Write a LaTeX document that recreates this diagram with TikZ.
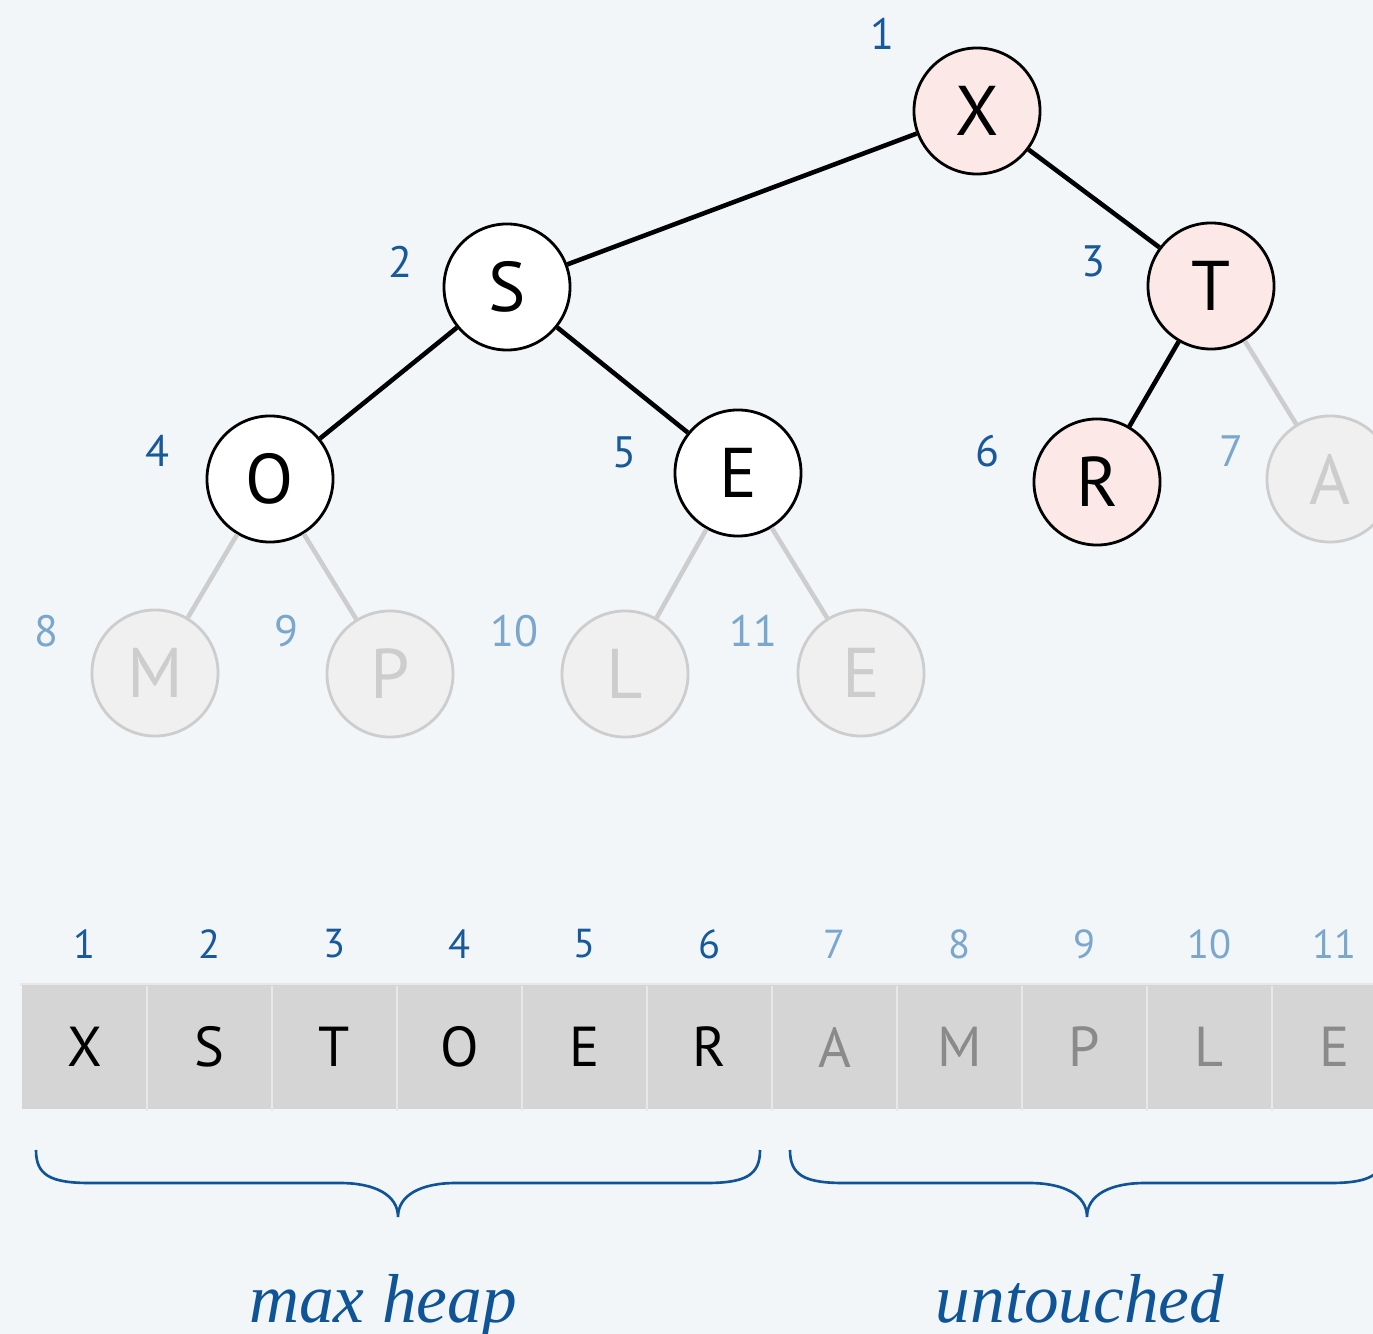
\documentclass[tikz,border=0pt]{standalone}
\usepackage{fontspec}
\setmainfont{PT Sans}
\newfontfamily\itfont{Liberation Serif}
\definecolor{bgc}{HTML}{F2F6F9}
\definecolor{darkblue}{HTML}{17599A}
\definecolor{lightblue}{HTML}{7BA7CD}
\definecolor{bracec}{HTML}{0E5496}
\definecolor{pinkc}{HTML}{FCE8E6}
\definecolor{ghostfill}{HTML}{F0F0F0}
\definecolor{ghostline}{HTML}{CDCDCD}
\definecolor{cellfill}{HTML}{D5D5D5}
\definecolor{cellline}{HTML}{E8E8E8}
\definecolor{graytext}{HTML}{8A8A8A}
\tikzset{
  heapnode/.style={circle, draw=black, line width=0.8pt, fill=white, minimum size=1.26cm, inner sep=0pt, font=\fontsize{20}{24}\selectfont},
  redheap/.style={heapnode, fill=pinkc},
  ghost/.style={circle, draw=ghostline, line width=0.8pt, fill=ghostfill, text=ghostline, minimum size=1.26cm, inner sep=0pt, font=\fontsize{20}{24}\selectfont},
  blackedge/.style={draw=black, line width=1.3pt},
  grayedge/.style={draw=ghostline, line width=1.3pt},
  lbl/.style={inner sep=0pt, text=darkblue, font=\fontsize{12.5}{15}\selectfont},
  lbllight/.style={lbl, text=lightblue},
  cellbox/.style={rectangle, fill=cellfill, minimum width=1.25cm, minimum height=1.23cm, inner sep=0pt, font=\fontsize{16}{19}\selectfont},
  sepline/.style={draw=cellline, line width=0.6pt},
  idx/.style={inner sep=0pt, text=darkblue, font=\fontsize{11.5}{14}\selectfont},
  idxlight/.style={idx, text=lightblue},
  bracepath/.style={draw=bracec, line width=0.75pt},
  caption/.style={inner sep=0pt, anchor=base, text=bracec, font=\itfont\itshape\fontsize{19.7}{24}\selectfont}
}
\begin{document}
\begin{tikzpicture}[x=0.01cm, y=-0.01cm]
\useasboundingbox (0,0) rectangle (1373,1334);
\fill[bgc] (0,0) rectangle (1373,1334);
\clip (0,0) rectangle (1373,1334);

% tree nodes
\node[redheap] (nX) at (977,111) {X};
\node[heapnode] (nS) at (507,287) {S};
\node[redheap] (nT) at (1211,286) {T};
\node[heapnode] (nO) at (270,479) {O};
\node[heapnode] (nE) at (738,473) {E};
\node[redheap] (nR) at (1097,482) {R};
\node[ghost] (nA) at (1330,479) {A};
\node[ghost] (nM) at (155,673) {M};
\node[ghost] (nP) at (390,674) {P};
\node[ghost] (nL) at (625,674) {L};
\node[ghost] (nEE) at (861,673) {E};

% edges
\draw[blackedge] (nX) -- (nS);
\draw[blackedge] (nX) -- (nT);
\draw[blackedge] (nS) -- (nO);
\draw[blackedge] (nS) -- (nE);
\draw[blackedge] (nT) -- (nR);
\draw[grayedge] (nT) -- (nA);
\draw[grayedge] (nO) -- (nM);
\draw[grayedge] (nO) -- (nP);
\draw[grayedge] (nE) -- (nL);
\draw[grayedge] (nE) -- (nEE);

% tree index labels
\node[lbl] (t1) at (882,34) {1};
\node[lbl] (t2) at (400,262) {2};
\node[lbl] (t3) at (1093,261) {3};
\node[lbl] (t4) at (157,451) {4};
\node[lbl] (t5) at (624,452) {5};
\node[lbl] (t6) at (987,451) {6};
\node[lbllight] (t7) at (1231,451) {7};
\node[lbllight] (t8) at (46,631) {8};
\node[lbllight] (t9) at (286,631) {9};
\node[lbllight] (t10) at (514,631) {10};
\node[lbllight] (t11) at (753,631) {11};

% array
\draw[cellline, line width=0.8pt] (20,984.5) -- (1373,984.5);
\foreach \i/\ch in {1/X,2/S,3/T,4/O,5/E,6/R} {
  \node[cellbox] (c\i) at ({22+62.5+125*(\i-1)},1047) {\ch};
  \node[idx] (a\i) at ({22+62.5+125*(\i-1)},944) {\i};
}
\foreach \i/\ch in {7/A,8/M,9/P,10/L,11/E} {
  \node[cellbox, text=graytext] (c\i) at ({22+62.5+125*(\i-1)},1047) {\ch};
  \node[idxlight] (a\i) at ({22+62.5+125*(\i-1)},944) {\i};
}
\foreach \i [evaluate=\i as \xx using {22+125*\i}] in {1,...,10} {
  \draw[sepline] (\xx,986) -- (\xx,1111);
}

% braces
\draw[bracepath] (36,1150) .. controls (36,1175) and (50,1183) .. (90,1183)
  -- (340,1183) .. controls (375,1183) and (398,1195) .. (398,1217)
  .. controls (398,1195) and (421,1183) .. (456,1183)
  -- (706,1183) .. controls (746,1183) and (760,1175) .. (760,1150);
\draw[bracepath] (790,1150) .. controls (790,1175) and (804,1183) .. (844,1183)
  -- (1029,1183) .. controls (1064,1183) and (1087,1195) .. (1087,1217)
  .. controls (1087,1195) and (1110,1183) .. (1145,1183)
  -- (1330,1183) .. controls (1370,1183) and (1384,1175) .. (1384,1150);

% captions
\node[caption] (cap1) at (383,1322) {max heap};
\node[caption] (cap2) at (1080,1322) {untouched};
\end{tikzpicture}
\end{document}
